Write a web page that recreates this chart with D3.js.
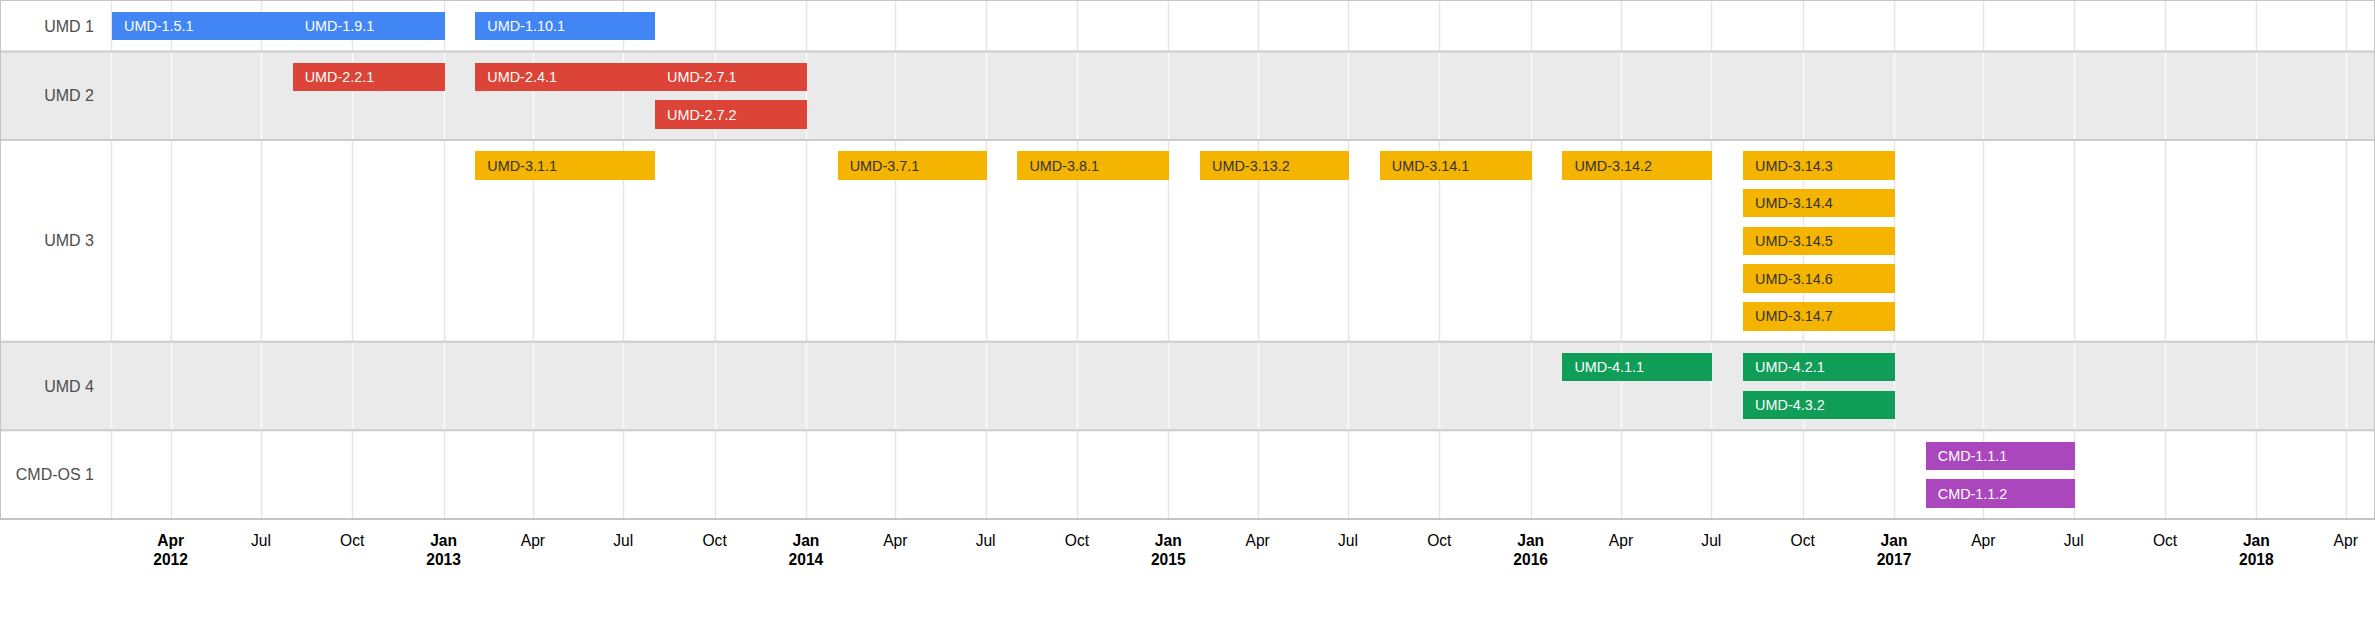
<!DOCTYPE html>
<html>
<head>
<meta charset="utf-8">
<script src="https://d3js.org/d3.v7.min.js"></script>
<style>
body { margin: 0; background: #fff; }
text { font-family: Arial, "Liberation Sans", sans-serif; }
</style>
</head>
<body>
<div id="chart"></div>
<script>
// rows of the timeline and their colours
var rows = ["UMD 1", "UMD 2", "UMD 3", "UMD 4", "CMD-OS 1"];
var rowColors = ["#4285f4", "#db4437", "#f4b400", "#0f9d58", "#ab47bc"];

// releases: name, row, start, end
var names  = ["UMD-1.5.1", "UMD-1.9.1", "UMD-1.10.1",
              "UMD-2.2.1", "UMD-2.4.1", "UMD-2.7.1", "UMD-2.7.2",
              "UMD-3.1.1", "UMD-3.7.1", "UMD-3.8.1", "UMD-3.13.2", "UMD-3.14.1", "UMD-3.14.2",
              "UMD-3.14.3", "UMD-3.14.4", "UMD-3.14.5", "UMD-3.14.6", "UMD-3.14.7",
              "UMD-4.1.1", "UMD-4.2.1", "UMD-4.3.2",
              "CMD-1.1.1", "CMD-1.1.2"];
var rowOf  = ["UMD 1", "UMD 1", "UMD 1",
              "UMD 2", "UMD 2", "UMD 2", "UMD 2",
              "UMD 3", "UMD 3", "UMD 3", "UMD 3", "UMD 3", "UMD 3",
              "UMD 3", "UMD 3", "UMD 3", "UMD 3", "UMD 3",
              "UMD 4", "UMD 4", "UMD 4",
              "CMD-OS 1", "CMD-OS 1"];
var starts = ["2012-02-01", "2012-08-01", "2013-02-01",
              "2012-08-01", "2013-02-01", "2013-08-01", "2013-08-01",
              "2013-02-01", "2014-02-01", "2014-08-01", "2015-02-01", "2015-08-01", "2016-02-01",
              "2016-08-01", "2016-08-01", "2016-08-01", "2016-08-01", "2016-08-01",
              "2016-02-01", "2016-08-01", "2016-08-01",
              "2017-02-01", "2017-02-01"];
var ends   = ["2012-08-01", "2013-01-01", "2013-08-01",
              "2013-01-01", "2013-08-01", "2014-01-01", "2014-01-01",
              "2013-08-01", "2014-07-01", "2015-01-01", "2015-07-01", "2016-01-01", "2016-07-01",
              "2017-01-01", "2017-01-01", "2017-01-01", "2017-01-01", "2017-01-01",
              "2016-07-01", "2017-01-01", "2017-01-01",
              "2017-07-01", "2017-07-01"];

// time axis extent
var axisStart = "2012-02-01", axisEnd = "2018-04-30";

var parse = d3.timeParse("%Y-%m-%d");

var W = 2375, H = 625;
var left = 111, right = 2374.5, top0 = 0.5;
var barH = 28.5, gap = 9.2, pad = 11.2;

var svg = d3.select("#chart").append("svg")
  .attr("width", W).attr("height", H);

var bars = names.map(function(n, i) {
  return {name: n, row: rowOf[i], start: parse(starts[i]), end: parse(ends[i])};
});

// put overlapping bars in separate lanes
var laneCount = {};
rows.forEach(function(r) {
  var laneEnds = [];
  bars.filter(function(b) { return b.row === r; }).forEach(function(b) {
    var l = laneEnds.findIndex(function(e) { return e <= b.start; });
    if (l < 0) { l = laneEnds.length; laneEnds.push(b.end); } else laneEnds[l] = b.end;
    b.lane = l;
  });
  laneCount[r] = laneEnds.length;
});

var rowH = rows.map(function(r) { var n = laneCount[r]; return 2 * pad + n * barH + (n - 1) * gap; });
var rowTop = [top0].concat(Array.from(d3.cumsum(rowH), function(c) { return top0 + c; }));
var bottom = rowTop[rows.length];

var x = d3.scaleTime()
  .domain([parse(axisStart), parse(axisEnd)])
  .range([left, right]);
var color = d3.scaleOrdinal().domain(rows).range(rowColors);

var ticks = x.ticks(d3.timeMonth.every(3));

// row bands
svg.selectAll("rect.band").data(rows).enter().append("rect")
  .attr("x", 0.5).attr("y", function(d, i) { return rowTop[i]; })
  .attr("width", right - 0.5).attr("height", function(d, i) { return rowH[i]; })
  .attr("fill", function(d, i) { return i % 2 ? "#eaeaea" : "#fff"; });

// gridlines, per row so they read on both band colours
rows.forEach(function(r, i) {
  svg.selectAll(null).data([left].concat(ticks.map(x))).enter().append("line")
    .attr("x1", function(d) { return Math.round(d) + 0.5; })
    .attr("x2", function(d) { return Math.round(d) + 0.5; })
    .attr("y1", rowTop[i]).attr("y2", rowTop[i + 1])
    .attr("stroke", i % 2 ? "#fafafa" : "#e6e6e6")
    .attr("stroke-width", 1.5);
});

// row separators
svg.selectAll("line.sep").data(rowTop.slice(1, rows.length)).enter().append("line")
  .attr("x1", 0.5).attr("x2", right)
  .attr("y1", function(d) { return d; }).attr("y2", function(d) { return d; })
  .attr("stroke", "#cccccc").attr("stroke-width", 2);

// frame
svg.append("path")
  .attr("d", "M0.5," + bottom + "V0.5H" + right + "V" + bottom)
  .attr("fill", "none").attr("stroke", "#c4c4c4");
svg.append("line")
  .attr("x1", 0).attr("x2", right + 0.5).attr("y1", bottom).attr("y2", bottom)
  .attr("stroke", "#b0b0b0").attr("stroke-width", 1.5);

// row labels
svg.selectAll("text.row").data(rows).enter().append("text")
  .attr("x", 94).attr("y", function(d, i) { return rowTop[i] + rowH[i] / 2; })
  .attr("dy", "0.35em").attr("text-anchor", "end")
  .attr("font-size", 16).attr("fill", "#4d4d4d")
  .text(function(d) { return d; });

// bars (snapped to whole pixels so touching bars show no seam)
var barY = function(b) { var i = rows.indexOf(b.row); return rowTop[i] + pad + b.lane * (barH + gap); };
var g = svg.selectAll("g.bar").data(bars).enter().append("g");
g.append("rect")
  .attr("x", function(d) { return Math.round(x(d.start)) + 1; })
  .attr("y", barY)
  .attr("width", function(d) { return Math.round(x(d.end)) - Math.round(x(d.start)); })
  .attr("height", barH)
  .attr("shape-rendering", "crispEdges")
  .attr("fill", function(d) { return color(d.row); });
g.append("text")
  .attr("x", function(d) { return x(d.start) + 13; })
  .attr("y", function(d) { return barY(d) + barH / 2; })
  .attr("dy", "0.36em")
  .attr("font-size", 14.4)
  .attr("fill", function(d) { return d.row === "UMD 3" ? "#333" : "#fff"; })
  .text(function(d) { return d.name; });

// axis labels
var fmtM = d3.timeFormat("%b"), fmtY = d3.timeFormat("%Y");
var lab = svg.selectAll("g.tick").data(ticks).enter().append("g")
  .attr("transform", function(d) { return "translate(" + x(d) + ",0)"; });
lab.append("text")
  .attr("y", 545.5).attr("text-anchor", "middle").attr("font-size", 15.6)
  .attr("font-weight", function(d, i) { return (i === 0 || d.getMonth() === 0) ? "bold" : null; })
  .attr("fill", "#000")
  .text(fmtM);
lab.filter(function(d, i) { return i === 0 || d.getMonth() === 0; })
  .append("text")
  .attr("y", 564.5).attr("text-anchor", "middle").attr("font-size", 15.6)
  .attr("font-weight", "bold").attr("fill", "#000")
  .text(fmtY);
</script>
</body>
</html>
